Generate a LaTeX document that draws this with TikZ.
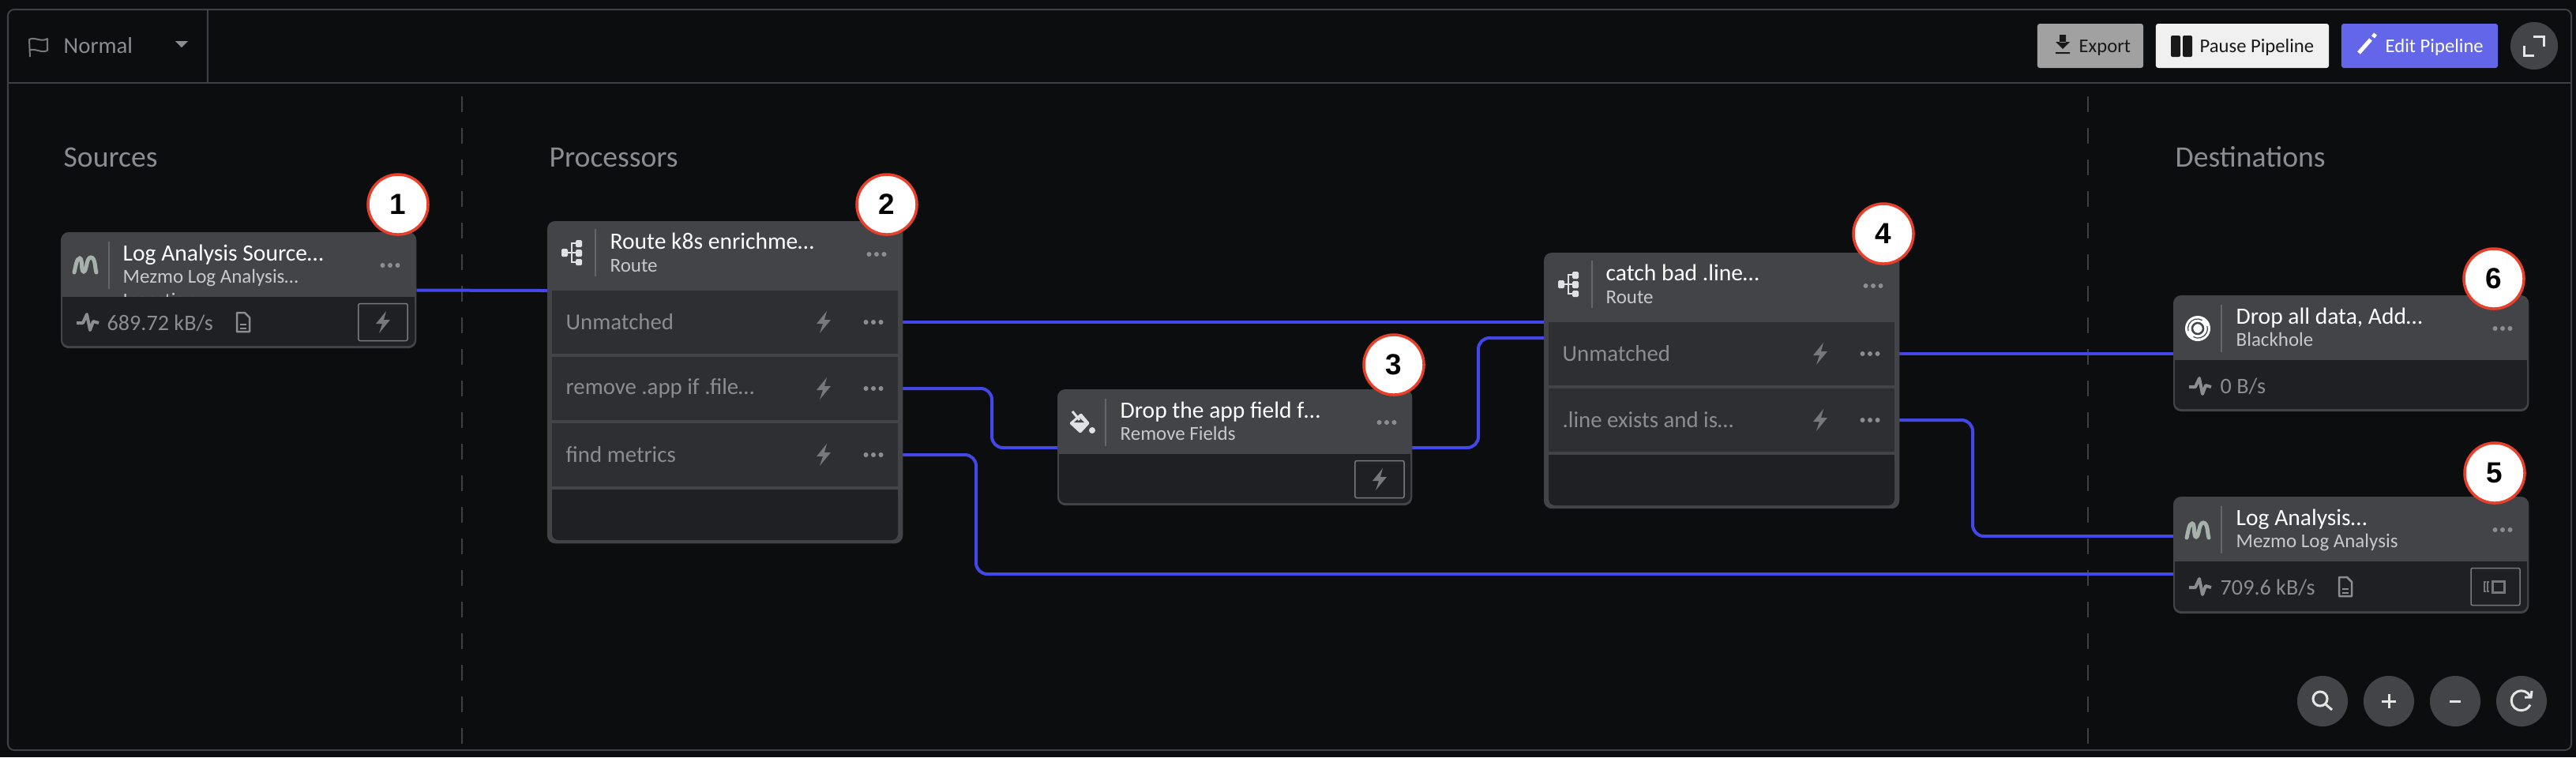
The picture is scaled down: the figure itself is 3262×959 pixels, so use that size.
\documentclass[tikz,border=0pt]{standalone}
\usepackage{fontspec}
\setmainfont{Carlito}
\newfontfamily\badgefont{Liberation Sans}[Scale=1]
\usetikzlibrary{backgrounds}

\definecolor{backdrop}{HTML}{0C0D0E}
\definecolor{framegrey}{HTML}{3F4044}
\definecolor{cardgrey}{HTML}{434448}
\definecolor{panelfill}{HTML}{1F2023}
\definecolor{rowfill}{HTML}{2E2F32}
\definecolor{wireblue}{HTML}{4347E6}
\definecolor{mutedtext}{HTML}{8C8D90}
\definecolor{subtext}{HTML}{C8C9CC}
\definecolor{iconmuted}{HTML}{77787A}
\definecolor{iconlight}{HTML}{E0E1E3}
\definecolor{mezmogreen}{HTML}{A5B2AB}
\definecolor{badgered}{HTML}{E8402A}
\definecolor{editblue}{HTML}{6366E8}

\tikzset{
  cardbox/.style={fill=cardgrey,rounded corners=.1cm,inner sep=0pt,outer sep=0pt,anchor=north west},
  rowbox/.style={fill=rowfill,inner sep=0pt,outer sep=0pt,minimum width=4.38cm,minimum height=.8cm},
  portpoint/.style={inner sep=0pt,outer sep=0pt,minimum size=0pt},
  cardtitle/.style={anchor=base west,inner sep=0pt,text=white,font=\fontsize{8.4}{10}\selectfont},
  cardsub/.style={anchor=base west,inner sep=0pt,text=subtext,font=\fontsize{7.1}{9}\selectfont},
  rowtext/.style={anchor=west,inner sep=0pt,text=mutedtext,font=\fontsize{8.2}{10}\selectfont},
  ratetext/.style={anchor=base west,inner sep=0pt,text=mutedtext,font=\fontsize{8}{10}\selectfont},
  coltitle/.style={anchor=base west,inner sep=0pt,text=mutedtext,font=\fontsize{10.7}{12}\selectfont},
  badge/.style={circle,fill=white,draw=badgered,line width=.035cm,inner sep=0pt,minimum size=.76cm,text=black,font=\fontsize{10.5}{12}\selectfont\badgefont\bfseries},
  wire/.style={draw=wireblue,line width=.04cm,rounded corners=.14cm},
  sepline/.style={draw=framegrey!80!white,line width=.02cm},
  divider/.style={draw=framegrey,line width=.02cm,dash pattern=on .2cm off .2cm},
  toolbtn/.style={rounded corners=.03cm,inner sep=0pt,outer sep=0pt,minimum height=.56cm},
  toolround/.style={circle,fill=cardgrey,inner sep=0pt,outer sep=0pt},
  toollabel/.style={anchor=base west,inner sep=0pt,font=\fontsize{7}{9}\selectfont},
  outlinebtn/.style={draw=iconmuted,line width=.015cm,rounded corners=.02cm,inner sep=0pt,minimum width=.62cm,minimum height=.47cm},
  boltico/.pic={\fill[iconmuted] (4,-14) -- (-9,2) -- (-1,2) -- (-5,14) -- (9,-3) -- (1,-3) -- cycle;},
  dotsico/.pic={\foreach \dotx in {-9.5,0,9.5} \fill[mutedtext] (\dotx,0) circle (.03cm);},
  pulseico/.pic={\draw[mutedtext,line width=.04cm,line join=round] (-14,1) -- (-6,1) -- (-1,-10) -- (3,10) -- (7,-1) -- (14,1);},
  docico/.pic={\draw[mutedtext,line width=.025cm,line join=round] (-8,-12) -- (2,-12) -- (8,-6) -- (8,12) -- (-8,12) -- cycle;
    \draw[mutedtext,line width=.02cm] (-4,3) -- (4,3) (-4,8) -- (4,8);},
  mezmoico/.pic={\draw[mezmogreen,line width=.05cm,line cap=round]
    (-14,10) .. controls (-12,2) and (-11,-8) .. (-7,-8) .. controls (-3,-8) and (-6,9) .. (-2,9)
    .. controls (2,9) and (1,-9) .. (7,-9) .. controls (13,-9) and (12,4) .. (14,10);},
  routeico/.pic={\fill[iconlight,rounded corners=.015cm] (-13,-5) rectangle (-5,5) (5,-16) rectangle (13,-7) (5,-4) rectangle (13,5) (5,8) rectangle (13,16);
    \draw[iconlight,line width=.012cm] (-5,0) -- (5,0) (5,-12) -- (0,-12) -- (0,12) -- (5,12);},
  bucketico/.pic={\fill[iconlight,rounded corners=.015cm] (-16,1) -- (-1,-12) -- (10,1) -- (-2,14) -- cycle;
    \fill[cardgrey] (-10,0) -- (-3,-6) -- (3,0) -- cycle;
    \draw[iconlight,line width=.03cm] (-12,-14) -- (-3,-3);
    \fill[iconlight] (13,10) circle (.04cm);},
  holeico/.pic={\fill[white] (0,0) circle (.16cm);
    \draw[cardgrey,line width=.012cm] (-12,3) arc (165:300:12);
    \draw[cardgrey,line width=.012cm] (12,-3) arc (-15:120:12);
    \draw[cardgrey,line width=.025cm] (0,0) circle (.07cm);
    \fill[white] (0,0) circle (.035cm);}
}

\begin{document}
\begin{tikzpicture}[x=.01cm,y=-.01cm]
  \useasboundingbox (0,0) rectangle (3262,959);
  \begin{scope}[on background layer]
    \fill[backdrop] (0,0) rectangle (3262,959);
    \draw[divider] (585,122) -- (585,946);
    \draw[divider] (2644,122) -- (2644,946);
  \end{scope}

  % outer frame and top bar
  \draw[framegrey,line width=.02cm,rounded corners=.08cm] (10,12) rectangle (3256,950);
  \draw[framegrey,line width=.02cm] (10,105) -- (3256,105);
  \draw[framegrey,line width=.02cm,rounded corners=.04cm] (263,12) -- (263,105);
  \draw[iconmuted,line width=.02cm,line join=round] (38,72) -- (37,50) .. controls (44,46) and (52,54) .. (60,49) -- (60,64) .. controls (52,68) and (44,60) .. (37,64);
  \node[ratetext,font=\fontsize{8.2}{10}\selectfont] (modeText) at (80,67) {Normal};
  \fill[mutedtext] (222,52) -- (238,52) -- (230,60) -- cycle;

  \node[toolbtn,fill=black!37,minimum width=1.34cm] (exportBtn) at (2647,58) {};
  \node[toollabel,text=black!90] (exportText) at (2632,66) {Export};
  \fill[black!90] (2608,44) rectangle (2616,54) (2603,53) -- (2621,53) -- (2612,62) -- cycle (2603,66) rectangle (2621,68);
  \node[toolbtn,fill=black!6,minimum width=2.19cm] (pauseBtn) at (2839.5,58) {};
  \node[toollabel,text=black!90] (pauseText) at (2785,66) {Pause Pipeline};
  \fill[black!90,rounded corners=.02cm] (2749,45) rectangle (2761,72) (2764,45) rectangle (2776,72);
  \node[toolbtn,fill=editblue,minimum width=1.98cm] (editBtn) at (3064,58) {};
  \node[toollabel,text=white] (editText) at (3020,66) {Edit Pipeline};
  \draw[white,line width=.05cm] (2987,67) -- (3002,50);
  \draw[white,line width=.05cm] (3005,47) -- (3008,43);
  \node[toolround,minimum size=.6cm] (expandBtn) at (3209,58) {};
  \draw[white!90!black,line width=.03cm] (3208,46) -- (3221,46) -- (3221,59) (3196,58) -- (3196,70) -- (3209,70);

  % column headings
  \node[coltitle] (sourcesText) at (80,211) {Sources};
  \node[coltitle] (processorsText) at (695,211) {Processors};
  \node[coltitle] (destText) at (2754,211) {Destinations};

  % source card
  \node[cardbox,minimum width=4.5cm,minimum height=1.47cm] (srcCard) at (77,294) {};
  \node[cardsub] (srcCut) at (155,388) {Ingestion};
  \fill[panelfill,rounded corners=.08cm] (79,376) rectangle (525,438);
  \fill[panelfill] (79,376) rectangle (525,390);
  \node[cardtitle] (srcTitle) at (155,330) {Log Analysis Source…};
  \node[cardsub] (srcSub) at (155,358) {Mezmo Log Analysis…};
  \draw[sepline] (138,306) -- (138,366);
  \pic at (108,335) {mezmoico};
  \pic at (494,336) {dotsico};
  \pic at (111,408) {pulseico};
  \node[ratetext] (srcRate) at (135,418) {689.72 kB/s};
  \pic at (308,408) {docico};
  \node[outlinebtn] (srcBtn) at (485,408) {};
  \pic at (485,408) {boltico};

  % first route card
  \node[cardbox,minimum width=4.5cm,minimum height=4.08cm] (routeA) at (693,280) {};
  \fill[panelfill,rounded corners=.08cm] (699,620) rectangle (1137,684);
  \fill[panelfill] (699,620) rectangle (1137,634);
  \node[cardtitle] (routeATitle) at (772,315) {Route k8s enrichme…};
  \node[cardsub] (routeASub) at (772,344) {Route};
  \draw[sepline] (754,290) -- (754,350);
  \pic at (724,320) {routeico};
  \pic at (1110,322) {dotsico};
  \foreach \rowid/\rowy/\rowlabel in {A1/408/Unmatched,A2/492/remove .app if .file…,A3/576/find metrics} {
    \node[rowbox] (row\rowid) at (918,\rowy) {};
    \node[rowtext] (label\rowid) at (716,\rowy) {\rowlabel};
    \pic at (1043,\rowy) {boltico};
    \pic at (1106,\rowy) {dotsico};
  }

  % remove fields card
  \node[cardbox,minimum width=4.49cm,minimum height=1.47cm] (dropCard) at (1339,493) {};
  \fill[panelfill,rounded corners=.08cm] (1341,575) rectangle (1786,637);
  \fill[panelfill] (1341,575) rectangle (1786,590);
  \node[cardtitle] (dropTitle) at (1418,529) {Drop the app field f…};
  \node[cardsub] (dropSub) at (1418,557) {Remove Fields};
  \draw[sepline] (1400,505) -- (1400,565);
  \pic at (1370,535) {bucketico};
  \pic at (1756,535) {dotsico};
  \node[outlinebtn] (dropBtn) at (1747,607) {};
  \pic at (1747,607) {boltico};

  % second route card
  \node[cardbox,minimum width=4.5cm,minimum height=3.24cm] (routeB) at (1955,320) {};
  \fill[panelfill,rounded corners=.08cm] (1961,576) rectangle (2399,640);
  \fill[panelfill] (1961,576) rectangle (2399,590);
  \node[cardtitle] (routeBTitle) at (2033,355) {catch bad .line…};
  \node[cardsub] (routeBSub) at (2033,384) {Route};
  \draw[sepline] (2016,330) -- (2016,390);
  \pic at (1986,360) {routeico};
  \pic at (2372,362) {dotsico};
  \foreach \rowid/\rowy/\rowlabel in {B1/448/Unmatched,B2/532/.line exists and is…} {
    \node[rowbox] (row\rowid) at (2180,\rowy) {};
    \node[rowtext] (label\rowid) at (1978,\rowy) {\rowlabel};
    \pic at (2305,\rowy) {boltico};
    \pic at (2368,\rowy) {dotsico};
  }

  % blackhole card
  \node[cardbox,minimum width=4.5cm,minimum height=1.47cm] (holeCard) at (2752,374) {};
  \fill[panelfill,rounded corners=.08cm] (2754,456) rectangle (3200,518);
  \fill[panelfill] (2754,456) rectangle (3200,470);
  \node[cardtitle] (holeTitle) at (2831,410) {Drop all data, Add…};
  \node[cardsub] (holeSub) at (2831,438) {Blackhole};
  \draw[sepline] (2813,386) -- (2813,446);
  \pic at (2783,416) {holeico};
  \pic at (3169,416) {dotsico};
  \pic at (2786,489) {pulseico};
  \node[ratetext] (holeRate) at (2811,498) {0 B/s};

  % log analysis card
  \node[cardbox,minimum width=4.5cm,minimum height=1.48cm] (logCard) at (2752,629) {};
  \fill[panelfill,rounded corners=.08cm] (2754,711) rectangle (3200,774);
  \fill[panelfill] (2754,711) rectangle (3200,725);
  \node[cardtitle] (logTitle) at (2831,665) {Log Analysis…};
  \node[cardsub] (logSub) at (2831,693) {Mezmo Log Analysis};
  \draw[sepline] (2813,641) -- (2813,701);
  \pic at (2783,671) {mezmoico};
  \pic at (3169,671) {dotsico};
  \pic at (2786,743) {pulseico};
  \node[ratetext] (logRate) at (2811,753) {709.6 kB/s};
  \pic at (2970,743) {docico};
  \node[outlinebtn] (logBtn) at (3160,743) {};
  \draw[iconmuted,line width=.02cm] (3148,737) -- (3146,737) -- (3146,749) -- (3148,749) (3152,737) -- (3150,737) -- (3150,749) -- (3152,749);
  \draw[iconmuted,line width=.03cm] (3156,736) rectangle (3171,750);

  % number badges
  \foreach \badgeid/\bx/\by in {1/504/259,2/1123/259,3/1765/462,4/2385/296,5/3159/599,6/3158/353} {
    \node[badge] (badge\badgeid) at (\bx,\by) {\badgeid};
  }

  % canvas buttons
  \node[toolround,minimum size=.64cm] (searchBtn) at (2941,888) {};
  \draw[white!90!black,line width=.03cm] (2938,885) circle (.09cm) (2945,892) -- (2953,899);
  \node[toolround,minimum size=.64cm] (plusBtn) at (3025,888) {};
  \draw[white!90!black,line width=.03cm] (3016,888) -- (3034,888) (3025,879) -- (3025,897);
  \node[toolround,minimum size=.64cm] (minusBtn) at (3109,888) {};
  \draw[white!90!black,line width=.03cm] (3102,888) -- (3116,888);
  \node[toolround,minimum size=.64cm] (resetBtn) at (3193,888) {};
  \draw[white!90!black,line width=.03cm] (3204,882) arc (-25:-335:12.5);
  \draw[white!90!black,line width=.03cm] (3206,875) -- (3205,883) -- (3197,883);

  % connection points and bends
  \node[portpoint] (routeAIn) at (693,368) {};
  \node[portpoint] (dropIn) at (1339,567) {};
  \node[portpoint] (dropOut) at (1788,567) {};
  \node[portpoint] (routeBInA) at (1955,408) {};
  \node[portpoint] (routeBInB) at (1955,428) {};
  \node[portpoint] (holeIn) at (2752,448) {};
  \node[portpoint] (logInA) at (2752,679) {};
  \node[portpoint] (logInB) at (2752,727) {};
  \coordinate (bendA) at (1256,530);
  \coordinate (bendB) at (1236,650);
  \coordinate (bendC) at (1872,500);
  \coordinate (bendD) at (2498,600);

  \begin{scope}[on background layer]
    \draw[wire] (srcCard.east) -- (routeAIn);
    \draw[wire] (rowA1.east) -- (routeBInA);
    \draw[wire] (rowA2.east) -| (bendA) |- (dropIn);
    \draw[wire] (rowA3.east) -| (bendB) |- (logInB);
    \draw[wire] (dropOut) -| (bendC) |- (routeBInB);
    \draw[wire] (rowB1.east) -- (holeIn);
    \draw[wire] (rowB2.east) -| (bendD) |- (logInA);
  \end{scope}
\end{tikzpicture}
\end{document}
